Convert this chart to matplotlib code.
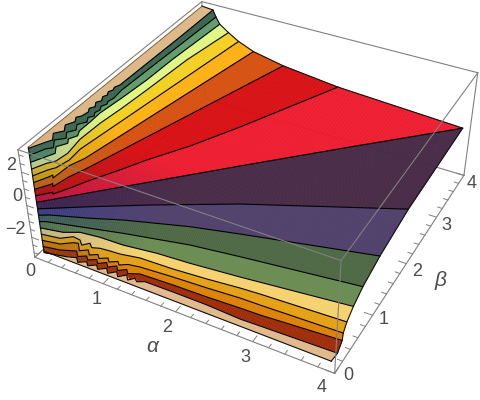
import numpy as np
import matplotlib
matplotlib.use('Agg')
import matplotlib.pyplot as plt
from mpl_toolkits.mplot3d.art3d import Poly3DCollection

plt.rcParams['font.family'] = ['Liberation Sans', 'DejaVu Sans']

alpha_min, alpha_max = 0.065, 3.91
beta_min, beta_max = 0.10, 3.90
z_top, z_bottom = 3.27, -3.1
levels = [-3.2, -2.8, -2.4, -2.0, -1.6, -1.2, -0.8, -0.4, 0.0, 0.4, 0.8, 1.2, 1.6, 2.0, 2.4, 2.8, 3.2]

# contour lines of the surface (alpha, beta at a constant height)
u8_a = [.065, .158, .204, .128, .211, .147, .206, .161, .203, .222, .185, .225, .179, .219, .178, .205, .173, .204, .180, .211, .221, .233, .237]
u8_b = [.10, .286, .363, .474, .572, .677, .786, .867, .920, 1.027, 1.098, 1.158, 1.242, 1.304, 1.382, 1.440, 1.507, 1.567, 1.624, 1.701, 2.355, 3.055, 3.90]
u7_a = [.065, .146, .211, .127, .225, .158, .226, .168, .241, .195, .239, .205, .226, .192, .224, .203, .222, .202, .223, .254, .282]
u7_b = [.10, .285, .348, .478, .569, .672, .762, .861, .960, 1.043, 1.103, 1.171, 1.244, 1.313, 1.392, 1.444, 1.543, 1.739, 2.342, 3.138, 3.90]
u6_a = [.065, .153, .206, .133, .212, .165, .222, .180, .180, .172, .214, .254, .270, .340]
u6_b = [.10, .270, .374, .484, .604, .678, .785, .874, 1.089, 1.306, 1.709, 2.208, 2.776, 3.90]
u5_a = [.065, .148, .215, .242, .199, .212, .256, .296, .354, .476]
u5_b = [.10, .272, .359, .546, .846, 1.237, 1.635, 2.135, 3.004, 3.90]
u4_a = [.065, .148, .206, .250, .232, .635]
u4_b = [.10, .273, .354, .550, .786, 3.90]
u3_a = [.065, .155, .170, .209, .230, .306, .868]
u3_b = [.10, .276, .322, .276, .561, .769, 3.90]
u2_a = [.065, .175, .181, .221, .274, .351, 1.330]
u2_b = [.10, .265, .290, .238, .486, .692, 3.90]
u1_a = [.065, .200, .223, .325, .422, .655, .815, 1.125, 1.467, 2.158]
u1_b = [.10, .248, .223, .401, .599, 1.002, 1.303, 1.802, 2.457, 3.90]
z0_a = [.065, .473, 1.811, 2.829, 3.93]
z0_b = [.10, .513, 1.843, 2.840, 3.90]
l1_a = [.065, .585, 1.190, 2.118, 3.91]
l1_b = [.10, .422, .781, 1.297, 2.141]
l2_a = [.065, .182, .635, .995, 1.753, 2.331, 3.91]
l2_b = [.10, .167, .339, .495, .759, .917, 1.321]
l3_a = [.065, .142, .666, 1.061, 1.861, 2.470, 3.91]
l3_b = [.10, .139, .280, .386, .574, .667, .867]
l4_a = [.065, .355, .529, .791, 1.109, 1.539, 1.967, 2.585, 3.91]
l4_b = [.10, .162, .255, .291, .302, .364, .395, .461, .628]
l5_a = [.065, .308, .430, .537, .609, .677, .741, .834, .965, 1.099, 1.345, 1.786, 2.217, 2.622, 2.867, 3.91]
l5_b = [.10, .143, .241, .229, .164, .236, .180, .217, .232, .242, .293, .311, .348, .394, .413, .469]
l6_a = [.065, .293, .419, .479, .570, .656, .720, .805, .857, .946, .997, 1.085, 1.130, 1.218, 1.366, 1.797, 2.238, 2.650, 2.903, 3.91]
l6_b = [.10, .146, .240, .259, .154, .215, .147, .202, .149, .206, .153, .210, .164, .221, .250, .284, .309, .341, .347, .387]
l7_a = [.065, .283, .470, .541, .630, .683, .772, .824, .908, .964, 1.048, 1.103, 1.187, 1.237, 1.368, 1.810, 2.259, 2.679, 2.932, 3.91]
l7_b = [.10, .143, .222, .147, .204, .151, .209, .155, .220, .160, .224, .164, .228, .175, .236, .257, .268, .288, .296, .370]
l8_a = [.065, .351, .469, .529, .618, .671, .758, .813, .897, .959, 1.037, 1.097, 1.174, 1.234, 1.293, 1.344, 1.429, 1.813, 2.272, 2.716, 2.967, 3.91]
l8_b = [.10, .167, .209, .147, .206, .153, .214, .156, .221, .154, .227, .160, .234, .167, .232, .192, .238, .243, .242, .221, .230, .260]

band_left = ['#dcb486', '#963c0e', '#b8700f', '#c89a20', '#c0b484', '#4f6f52', '#3c5c5c', '#3c3c82', '#3c2350', '#b8143f',
             '#aa1414', '#b4641a', '#be9614', '#c8aa32', '#b4c68c', '#4b8264', '#3e6955', '#d8b080']
band_right = ['#e0b98c', '#a02d0a', '#dc8208', '#e6a014', '#f5d26e', '#6a8c52', '#4e6844', '#50406c', '#482a46', '#ed1b2e',
              '#d80f12', '#d6500f', '#fdb113', '#f4d021', '#e2f682', '#609b69', '#3a644e', '#deb887']

tick_major = [0, 1, 2, 3, 4]
tick_minor = [0.2*i for i in range(21) if i % 5 != 0]
z_major = [-2, 0, 2]
z_minor = [-3, -2.5, -1.5, -1, -0.5, 0.5, 1, 1.5, 2.5, 3]
alpha_label_xy = [(30, 272), (97, 300), (167, 328), (245, 358), (322, 388)]
beta_label_xy = [(348, 375), (384, 320), (417, 271), (446, 225), (472, 184)]
z_label_xy = [(11, 166), (17, 197), (15, 230)]

GREY = '#808080'
TXT = '#4d4d4d'
fig = plt.figure(figsize=(4.8, 4.0), dpi=100)
ax = fig.add_axes([20/480, -3.3/400, 466.8/480, 466.8/400], projection='3d')
ax.set_xlim(0, 4); ax.set_ylim(0, 4); ax.set_zlim(-3.3, 3.3)
ax.view_init(35.93, -61.70)
ax.set_proj_type('persp', focal_length=0.4371)
ax.set_box_aspect((1, 1.011, 0.3982))
ax.set_axis_off()
ax.computed_zorder = False
ax.patch.set_visible(False)

def resample(a, b, n=160):
    a = np.asarray(a, float); b = np.asarray(b, float)
    d = np.r_[0, np.cumsum(np.hypot(np.diff(a), np.diff(b)))]
    t = np.linspace(0, 1, n)
    return np.interp(t*d[-1], d, a), np.interp(t*d[-1], d, b)

contours = [
    ([alpha_min, alpha_max], [beta_min, beta_min], z_bottom),
    (l8_a, l8_b, levels[0]), (l7_a, l7_b, levels[1]), (l6_a, l6_b, levels[2]), (l5_a, l5_b, levels[3]),
    (l4_a, l4_b, levels[4]), (l3_a, l3_b, levels[5]), (l2_a, l2_b, levels[6]), (l1_a, l1_b, levels[7]),
    (z0_a, z0_b, levels[8]),
    (u1_a, u1_b, levels[9]), (u2_a, u2_b, levels[10]), (u3_a, u3_b, levels[11]), (u4_a, u4_b, levels[12]),
    (u5_a, u5_b, levels[13]), (u6_a, u6_b, levels[14]), (u7_a, u7_b, levels[15]), (u8_a, u8_b, levels[16]),
    ([alpha_min, alpha_min], [beta_min, beta_max], z_top),
]
rs = [resample(c[0], c[1]) + (c[2],) for c in contours]
verts, cols = [], []
n = len(rs[0][0])
for j in range(len(rs)-1):
    A, B = rs[j], rs[j+1]
    cl = np.array(matplotlib.colors.to_rgb(band_left[j]))
    cr = np.array(matplotlib.colors.to_rgb(band_right[j]))
    for k in range(n-1):
        verts.append([(A[0][k], A[1][k], A[2]), (A[0][k+1], A[1][k+1], A[2]),
                      (B[0][k+1], B[1][k+1], B[2]), (B[0][k], B[1][k], B[2])])
        w = min(1.0, (k/(n-2))/0.35)
        cols.append(tuple(cl+(cr-cl)*w))
surf = Poly3DCollection(verts, facecolors=cols, edgecolors=cols, linewidths=0.4, zorder=2)
surf.set_clip_on(False)
ax.add_collection3d(surf)

def line(x, y, z, **kw):
    l, = ax.plot(x, y, z, clip_on=False, **kw)
    return l

for c in contours[1:-1]:
    line(c[0], c[1], [c[2]]*len(c[0]), color='k', lw=0.8, zorder=3, solid_joinstyle='round')
outline = dict(color='#111111', lw=0.8, zorder=3)
line([alpha_min, alpha_max], [beta_min, beta_min], [z_bottom, z_bottom], **outline)
line([alpha_min, alpha_min], [beta_min, beta_max], [z_top, z_top], color='#7a5a3a', lw=0.6, zorder=3)
line([alpha_min, alpha_min], [beta_min, beta_min], [z_bottom, z_top], **outline)
line([r[0][-1] for r in rs], [r[1][-1] for r in rs], [r[2] for r in rs], **outline)

box = dict(color=GREY, lw=0.8)
zb, zt = -3.3, 3.3
line([0, 4], [4, 4], [zb, zb], zorder=1, **box)
line([0, 0], [0, 4], [zb, zb], zorder=1, **box)
line([0, 0], [4, 4], [zb, zt], zorder=1, **box)
line([0, 0], [0, 0], [zb, zt], zorder=1, **box)
line([0, 0], [0, 4], [zt, zt], zorder=1, **box)
line([0, 4], [4, 4], [zt, zt], zorder=1, **box)
line([4, 4], [4, 4], [zb, zt], zorder=1, **box)
line([0, 4], [0, 0], [zb, zb], zorder=1, **box)
line([4, 4], [0, 4], [zb, zb], zorder=1, **box)
line([0, 4], [0, 0], [zt, zt], zorder=4, **box)
line([4, 4], [0, 4], [zt, zt], zorder=4, **box)
line([4, 4], [0, 0], [zb, zt], zorder=4, **box)

tk = dict(color=GREY, lw=0.7, zorder=1)
for v in tick_major:
    line([v, v], [0, .1], [zb, zb], **tk)
    line([4, 3.9], [v, v], [zb, zb], **tk)
for v in tick_minor:
    line([v, v], [0, .06], [zb, zb], **tk)
    line([4, 3.94], [v, v], [zb, zb], **tk)
for v in z_major:
    line([0, .1], [0, 0], [v, v], **tk)
for v in z_minor:
    line([0, .06], [0, 0], [v, v], **tk)

def label(x, y, s, size=13, **kw):
    fig.text(x/480, 1-y/400, s, ha='center', va='center', color=TXT, fontsize=size, **kw)

for (x, y), s in zip(alpha_label_xy, ['0', '1', '2', '3', '4']):
    label(x, y, s)
for (x, y), s in zip(beta_label_xy, ['0', '1', '2', '3', '4']):
    label(x, y, s)
for (x, y), s in zip(z_label_xy, ['2', '0', '\u22122']):
    label(x, y, s)
label(152, 346, '\u03b1', size=15, style='italic')
label(440, 280, '\u03b2', size=15, style='italic')

fig.savefig('out.png', dpi=100)
